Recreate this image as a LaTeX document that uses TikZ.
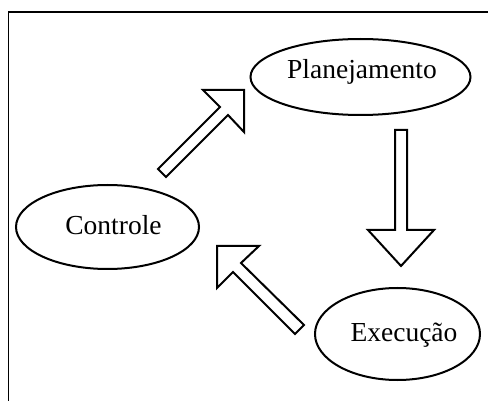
\documentclass[tikz,border=0pt]{standalone}
\usepackage{fontspec}
\setmainfont{Liberation Serif}
\usetikzlibrary{shapes.geometric}
\begin{document}
\begin{tikzpicture}[x=1pt,y=-1pt,
  oval/.style={draw,ellipse,line width=2pt,inner sep=0pt},
  lbl/.style={anchor=base,inner sep=0pt,font=\fontsize{27.5}{30}\selectfont},
  blockarrow/.style={draw,line width=2pt,line join=miter}]
\useasboundingbox (0,0) rectangle (488,401);
\draw[line width=1.6pt] (8.5,401) -- (8.5,12) -- (488,12);
% ellipses
\node[oval,minimum width=220pt,minimum height=76pt] (plan) at (360.5,77) {};
\node[oval,minimum width=183pt,minimum height=84pt] (ctrl) at (107.5,227) {};
\node[oval,minimum width=165pt,minimum height=92pt] (exec) at (397.5,334) {};
% labels
\node[lbl] (plantxt) at (362,79) {Planejamento};
\node[lbl] (ctrltxt) at (113.5,235) {Controle};
\node[lbl] (exectxt) at (404,341.5) {Execução};
% block arrows
\draw[blockarrow] (158,169) -- (220,107) -- (203,90) -- (244,90) -- (244,132) -- (228,115) -- (166,177) -- cycle;
\draw[blockarrow] (395,130) -- (407,130) -- (407,230) -- (434,230) -- (401,266) -- (368,230) -- (395,230) -- cycle;
\draw[blockarrow] (217,246) -- (259,246) -- (241,263) -- (304,325) -- (295,334) -- (233,272) -- (217,288) -- cycle;
\end{tikzpicture}
\end{document}
